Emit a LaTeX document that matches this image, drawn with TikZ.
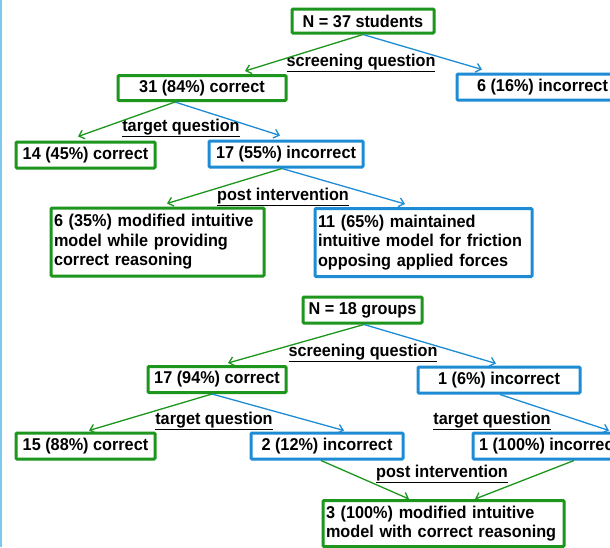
\documentclass[tikz,border=0pt]{standalone}
\usepackage{fontspec}
\setmainfont{Liberation Sans}[FakeStretch=0.95]
\usetikzlibrary{arrows.meta,calc}
\definecolor{gbox}{RGB}{28,150,28}
\definecolor{bbox}{RGB}{30,140,212}
\definecolor{sidebar}{RGB}{126,200,238}
\begin{document}
\begin{tikzpicture}[x=1pt,y=-1pt,
  every node/.style={font=\fontsize{17.1}{19.5}\selectfont\bfseries},
  gb/.style={draw=gbox,line width=3pt,fill=white,inner sep=0pt,rounded corners=1pt},
  bb/.style={draw=bbox,line width=3pt,fill=white,inner sep=0pt,rounded corners=1pt},
  multi/.style={inner xsep=3pt,inner ysep=0pt,align=left},
  lbl/.style={inner sep=0pt},
  garrow/.style={draw=gbox,line width=1.3pt,-{Straight Barb[length=5pt,width=9pt,line width=1.3pt]}},
  barrow/.style={draw=bbox,line width=1.3pt,-{Straight Barb[length=5pt,width=9pt,line width=1.3pt]}}]
\useasboundingbox (0,0) rectangle (610,547);
\clip (0,0) rectangle (610,547);
\fill[white] (0,0) rectangle (610,547);
\fill[sidebar] (0,0) rectangle (1.8,547);

% ---- top tree ----
\node[gb,minimum width=142pt,minimum height=24pt] (n37) at (363,21) {N = 37 students};
\node[gb,minimum width=168pt,minimum height=25pt] (c31) at (202,88) {31 (84\%) correct};
\node[bb,minimum width=171pt,minimum height=26pt] (i6) at (542.5,87) {6 (16\%) incorrect};
\node[gb,minimum width=139pt,minimum height=26pt] (c14) at (85.5,155) {14 (45\%) correct};
\node[bb,minimum width=154pt,minimum height=26pt] (i17) at (286,154) {17 (55\%) incorrect};
\node[gb,multi,minimum width=213pt,minimum height=68pt,text width=207pt] (m6) at (157.5,242) {6 (35\%) modified intuitive\\model while providing\\correct reasoning};
\node[bb,multi,minimum width=217pt,minimum height=68pt,text width=211pt] (m11) at (423.5,242.5) {11 (65\%) maintained\\intuitive model for friction\\opposing applied forces};

\node[lbl] (sq1) at (361,63) {\underline{screening question}};
\node[lbl] (tq1) at (181,128) {\underline{target question}};
\node[lbl] (pi1) at (283,197) {\underline{post intervention}};

\draw[garrow] (n37.south) -- ([xshift=43pt,yshift=3pt]c31.north);
\draw[barrow] (n37.south) -- ([xshift=-60.5pt,yshift=3pt]i6.north);
\draw[garrow] ([xshift=-27pt]c31.south) -- ([xshift=-7.5pt,yshift=4pt]c14.north);
\draw[barrow] ([xshift=-27pt]c31.south) -- ([xshift=-6pt,yshift=4pt]i17.north);
\draw[garrow] ([xshift=-4pt]i17.south) -- ([xshift=9.5pt,yshift=3pt]m6.north);
\draw[barrow] ([xshift=-4pt]i17.south) -- ([xshift=-18.5pt,yshift=3pt]m11.north);

% ---- bottom tree ----
\node[gb,minimum width=119pt,minimum height=26pt] (n18) at (362.5,310) {N = 18 groups};
\node[gb,minimum width=138pt,minimum height=26pt] (c17) at (217,379.5) {17 (94\%) correct};
\node[bb,minimum width=162pt,minimum height=26pt] (i1) at (499,380) {1 (6\%) incorrect};
\node[gb,minimum width=139pt,minimum height=26pt] (c15) at (85.5,446) {15 (88\%) correct};
\node[bb,minimum width=152pt,minimum height=26pt] (i2) at (327,446) {2 (12\%) incorrect};
\node[bb,minimum width=152pt,minimum height=26pt] (i100) at (549,446) {1 (100\%) incorrect};
\node[gb,multi,minimum width=241pt,minimum height=46pt,text width=235pt] (m3) at (443.5,523.5) {3 (100\%) modified intuitive\\model with correct reasoning};

\node[lbl] (sq2) at (363,353) {\underline{screening question}};
\node[lbl] (tq2) at (214,421) {\underline{target question}};
\node[lbl] (tq3) at (492,421) {\underline{target question}};
\node[lbl] (pi2) at (442,474) {\underline{post intervention}};

\draw[garrow] ([xshift=1.5pt]n18.south) -- ([xshift=11pt,yshift=2pt]c17.north);
\draw[barrow] ([xshift=1.5pt]n18.south) -- ([xshift=-3pt,yshift=2pt]i1.north);
\draw[garrow] ([xshift=-5pt]c17.south) -- ([xshift=3.5pt,yshift=1pt]c15.north);
\draw[barrow] ([xshift=-5pt]c17.south) -- ([xshift=17pt,yshift=1pt]i2.north);
\draw[barrow] ([xshift=1pt]i1.south) -- ([xshift=60pt,yshift=1pt]i100.north);
\draw[garrow] ([xshift=-6pt]i2.south) -- ([xshift=-34.5pt]m3.north);
\draw[garrow] ([xshift=25pt]i100.south) -- ([xshift=31.5pt]m3.north);
\end{tikzpicture}
\end{document}
